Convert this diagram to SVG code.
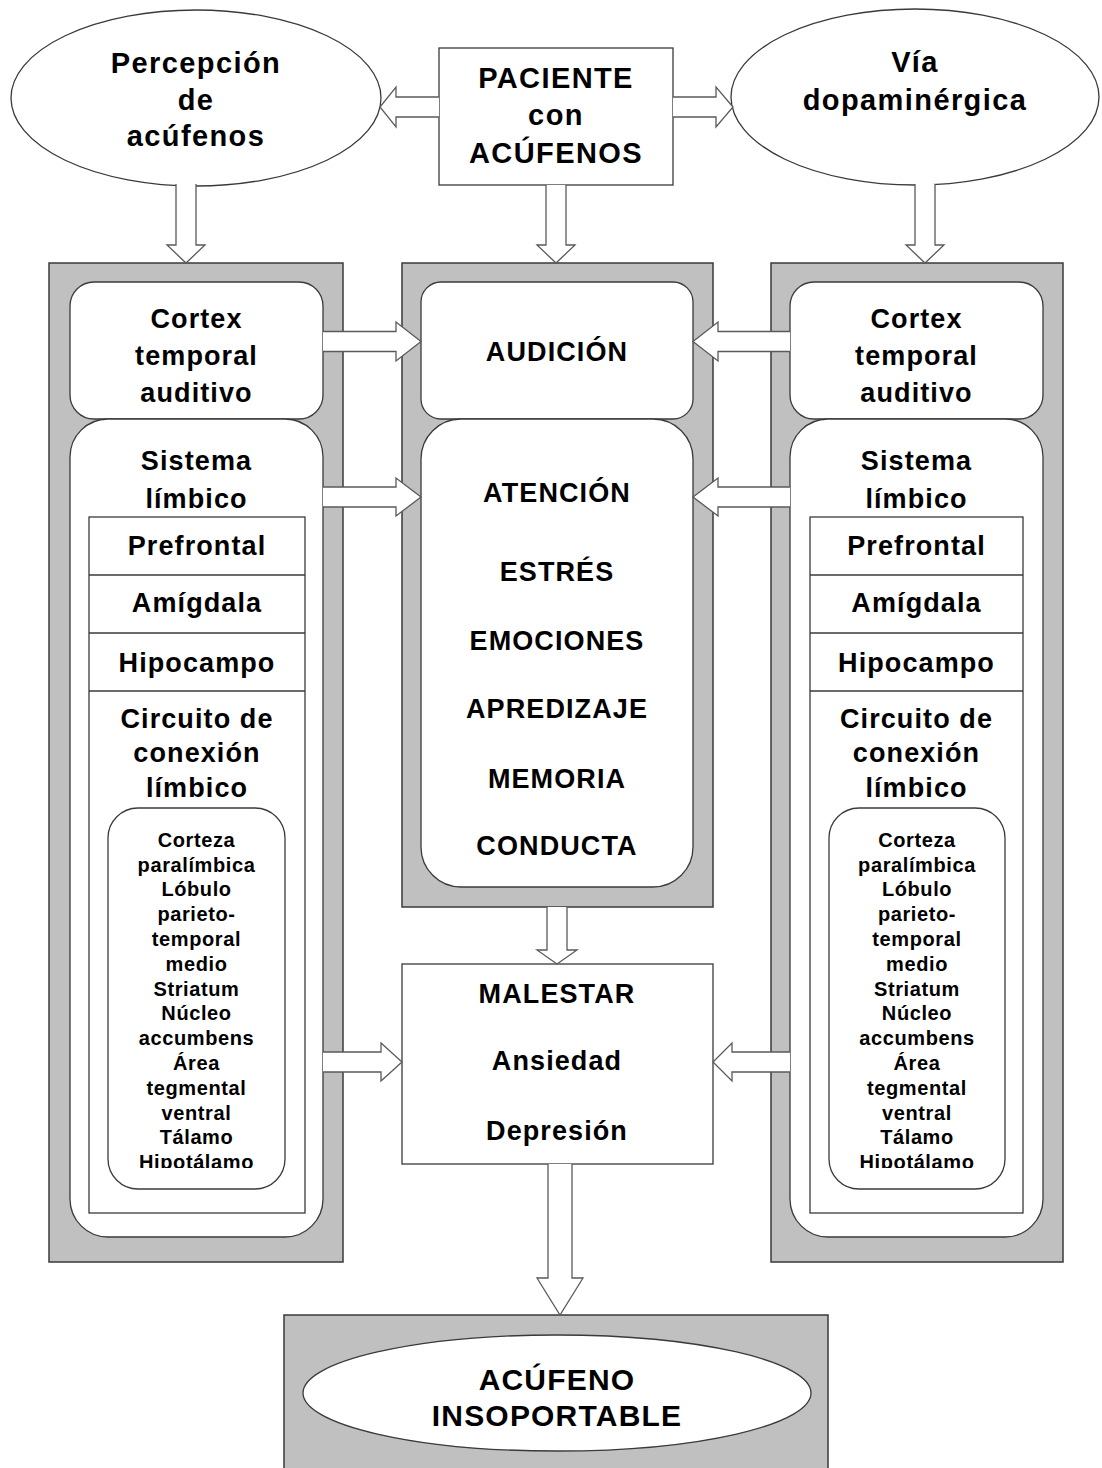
<svg xmlns="http://www.w3.org/2000/svg" width="1102" height="1468" viewBox="0 0 1102 1468">
  <style>
    .panel { fill: #c0c0c0; stroke: #3a3a3a; stroke-width: 1.5; }
    .box { fill: #ffffff; stroke: #3a3a3a; stroke-width: 1.3; }
    .arrow { fill: #ffffff; stroke: #5a5a5a; stroke-width: 1.3; stroke-linejoin: miter; }
    text { font-family: "Liberation Sans", Arial, sans-serif; font-weight: bold; fill: #000; text-anchor: middle; }
    .t29 { font-size: 29px; letter-spacing: 1.4px; }
    .t27 { font-size: 27px; letter-spacing: 1.1px; }
    .t30 { font-size: 30px; letter-spacing: 1.2px; }
    .t20 { font-size: 20px; letter-spacing: 0.6px; }
  </style>
  <defs>
    <clipPath id="clipL"><rect x="100" y="820" width="200" height="348"/></clipPath>
    <clipPath id="clipR"><rect x="820" y="820" width="200" height="348"/></clipPath>
  </defs>
  <rect width="1102" height="1468" fill="#ffffff"/>

  <!-- top row -->
  <g id="percepcion">
    <ellipse class="box" cx="196" cy="98" rx="185" ry="88"/>
    <text class="t29" x="196" y="73">Percepción</text>
    <text class="t29" x="196" y="110">de</text>
    <text class="t29" x="196" y="146">acúfenos</text>
  </g>
  <g id="paciente">
    <rect class="box" x="439" y="48" width="234" height="137"/>
    <text class="t29" x="556" y="88">PACIENTE</text>
    <text class="t29" x="556" y="125">con</text>
    <text class="t29" x="556" y="163">ACÚFENOS</text>
  </g>
  <g id="via">
    <ellipse class="box" cx="915" cy="97" rx="184" ry="88"/>
    <text class="t29" x="915" y="72">Vía</text>
    <text class="t29" x="915" y="110">dopaminérgica</text>
  </g>

  <!-- left column -->
  <g id="left-panel">
    <rect class="panel" x="49" y="263" width="294" height="999"/>
    <rect class="box" x="70" y="282" width="253" height="137" rx="24"/>
    <text class="t27" x="196.5" y="328">Cortex</text>
    <text class="t27" x="196.5" y="365">temporal</text>
    <text class="t27" x="196.5" y="402">auditivo</text>
    <rect class="box" x="70" y="419" width="253" height="818" rx="38"/>
    <text class="t27" x="196.5" y="470">Sistema</text>
    <text class="t27" x="196.5" y="508">límbico</text>
    <rect class="box" x="89" y="517" width="216" height="696"/>
    <line class="box" x1="89" y1="575" x2="305" y2="575"/>
    <line class="box" x1="89" y1="633" x2="305" y2="633"/>
    <line class="box" x1="89" y1="691" x2="305" y2="691"/>
    <text class="t27" x="197" y="555">Prefrontal</text>
    <text class="t27" x="197" y="612">Amígdala</text>
    <text class="t27" x="197" y="672">Hipocampo</text>
    <text class="t27" x="197" y="728">Circuito de</text>
    <text class="t27" x="197" y="762">conexión</text>
    <text class="t27" x="197" y="797">límbico</text>
    <rect class="box" x="108" y="808" width="177" height="381" rx="30"/>
    <g clip-path="url(#clipL)">
      <text class="t20" x="196.5" y="847">Corteza</text>
      <text class="t20" x="196.5" y="872">paralímbica</text>
      <text class="t20" x="196.5" y="896">Lóbulo</text>
      <text class="t20" x="196.5" y="921">parieto-</text>
      <text class="t20" x="196.5" y="946">temporal</text>
      <text class="t20" x="196.5" y="971">medio</text>
      <text class="t20" x="196.5" y="996">Striatum</text>
      <text class="t20" x="196.5" y="1020">Núcleo</text>
      <text class="t20" x="196.5" y="1045">accumbens</text>
      <text class="t20" x="196.5" y="1070">Área</text>
      <text class="t20" x="196.5" y="1095">tegmental</text>
      <text class="t20" x="196.5" y="1120">ventral</text>
      <text class="t20" x="196.5" y="1144">Tálamo</text>
      <text class="t20" x="196.5" y="1169">Hipotálamo</text>
    </g>
  </g>

  <!-- centre column -->
  <g id="center-panel">
    <rect class="panel" x="402" y="263" width="311" height="644"/>
    <rect class="box" x="421" y="282" width="272" height="137" rx="20"/>
    <text class="t27" x="557" y="361">AUDICIÓN</text>
    <rect class="box" x="421" y="419" width="272" height="468" rx="40"/>
    <text class="t27" x="557" y="502">ATENCIÓN</text>
    <text class="t27" x="557" y="581">ESTRÉS</text>
    <text class="t27" x="557" y="650">EMOCIONES</text>
    <text class="t27" x="557" y="718">APREDIZAJE</text>
    <text class="t27" x="557" y="788">MEMORIA</text>
    <text class="t27" x="557" y="855">CONDUCTA</text>
  </g>
  <g id="malestar">
    <rect class="box" x="402" y="964" width="311" height="200"/>
    <text class="t27" x="557" y="1003">MALESTAR</text>
    <text class="t27" x="557" y="1070">Ansiedad</text>
    <text class="t27" x="557" y="1140">Depresión</text>
  </g>

  <!-- right column -->
  <g id="right-panel">
    <rect class="panel" x="771" y="263" width="292" height="999"/>
    <rect class="box" x="790" y="282" width="253" height="137" rx="24"/>
    <text class="t27" x="916.5" y="328">Cortex</text>
    <text class="t27" x="916.5" y="365">temporal</text>
    <text class="t27" x="916.5" y="402">auditivo</text>
    <rect class="box" x="790" y="419" width="253" height="818" rx="38"/>
    <text class="t27" x="916.5" y="470">Sistema</text>
    <text class="t27" x="916.5" y="508">límbico</text>
    <rect class="box" x="810" y="517" width="213" height="696"/>
    <line class="box" x1="810" y1="575" x2="1023" y2="575"/>
    <line class="box" x1="810" y1="633" x2="1023" y2="633"/>
    <line class="box" x1="810" y1="691" x2="1023" y2="691"/>
    <text class="t27" x="916.5" y="555">Prefrontal</text>
    <text class="t27" x="916.5" y="612">Amígdala</text>
    <text class="t27" x="916.5" y="672">Hipocampo</text>
    <text class="t27" x="916.5" y="728">Circuito de</text>
    <text class="t27" x="916.5" y="762">conexión</text>
    <text class="t27" x="916.5" y="797">límbico</text>
    <rect class="box" x="829" y="808" width="176" height="381" rx="30"/>
    <g clip-path="url(#clipR)">
      <text class="t20" x="917" y="847">Corteza</text>
      <text class="t20" x="917" y="872">paralímbica</text>
      <text class="t20" x="917" y="896">Lóbulo</text>
      <text class="t20" x="917" y="921">parieto-</text>
      <text class="t20" x="917" y="946">temporal</text>
      <text class="t20" x="917" y="971">medio</text>
      <text class="t20" x="917" y="996">Striatum</text>
      <text class="t20" x="917" y="1020">Núcleo</text>
      <text class="t20" x="917" y="1045">accumbens</text>
      <text class="t20" x="917" y="1070">Área</text>
      <text class="t20" x="917" y="1095">tegmental</text>
      <text class="t20" x="917" y="1120">ventral</text>
      <text class="t20" x="917" y="1144">Tálamo</text>
      <text class="t20" x="917" y="1169">Hipotálamo</text>
    </g>
  </g>

  <!-- outcome -->
  <g id="insoportable">
    <rect class="panel" x="284" y="1315" width="544" height="160"/>
    <ellipse class="box" cx="557" cy="1393" rx="254" ry="58"/>
    <text class="t30" x="557" y="1390">ACÚFENO</text>
    <text class="t30" x="557" y="1426">INSOPORTABLE</text>
  </g>

  <!-- block arrows -->
  <g id="connectors">
    <!-- from PACIENTE to the two ellipses -->
    <path class="arrow" d="M439,97 L396,97 L396,87 L380,107 L396,127 L396,117 L439,117"/>
    <path class="arrow" d="M673,97 L716,97 L716,87 L733,107 L716,127 L716,117 L673,117"/>
    <!-- downward into the three panels -->
    <path class="arrow" d="M176,184 L176,245 L167,245 L186,263 L205,245 L196,245 L196,184"/>
    <path class="arrow" d="M546,185 L546,245 L537,245 L556,263 L575,245 L566,245 L566,185"/>
    <path class="arrow" d="M915,184 L915,245 L906,245 L925,263 L944,245 L935,245 L935,184"/>
    <!-- left column into the centre -->
    <path class="arrow" d="M323,331.5 L396,331.5 L396,322 L421,341.5 L396,361 L396,351.5 L323,351.5"/>
    <path class="arrow" d="M323,487 L396,487 L396,478 L421,497 L396,516 L396,507 L323,507"/>
    <!-- right column into the centre -->
    <path class="arrow" d="M790,331.5 L718,331.5 L718,322 L693,341.5 L718,361 L718,351.5 L790,351.5"/>
    <path class="arrow" d="M790,487 L718,487 L718,478 L693,497 L718,516 L718,507 L790,507"/>
    <!-- centre panel down to MALESTAR -->
    <path class="arrow" d="M547,907 L547,950 L537,950 L557,964 L577,950 L567,950 L567,907"/>
    <!-- side columns into MALESTAR -->
    <path class="arrow" d="M323,1052 L381,1052 L381,1043 L402,1062 L381,1081 L381,1072 L323,1072"/>
    <path class="arrow" d="M790,1052 L732,1052 L732,1043 L713,1062 L732,1081 L732,1072 L790,1072"/>
    <!-- MALESTAR down to the outcome -->
    <path class="arrow" d="M548,1164 L548,1278 L537,1278 L560,1315 L583,1278 L572,1278 L572,1164"/>
  </g>
</svg>
